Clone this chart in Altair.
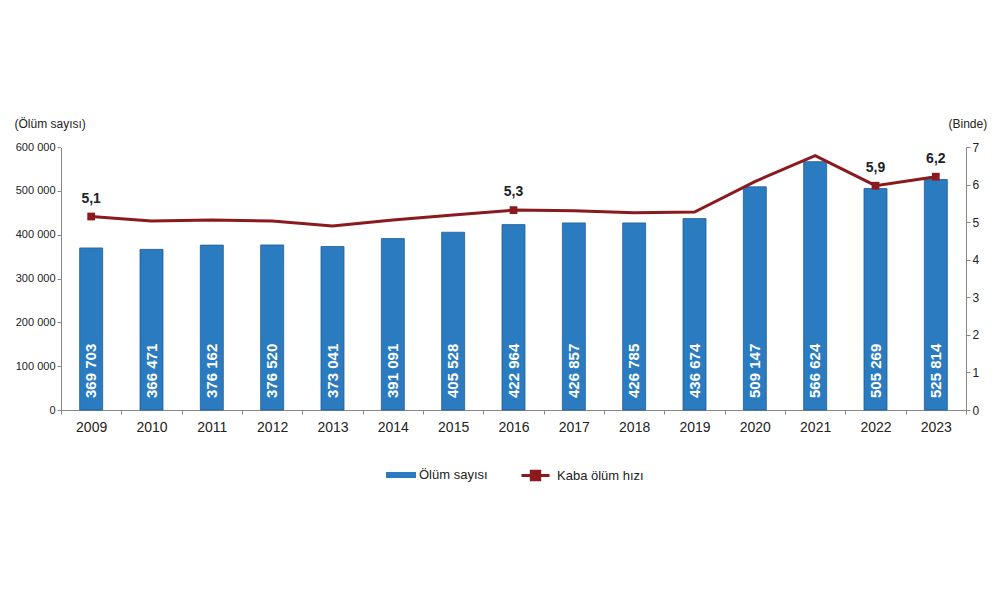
import altair as alt
import pandas as pd

years = ["2009", "2010", "2011", "2012", "2013", "2014", "2015", "2016",
         "2017", "2018", "2019", "2020", "2021", "2022", "2023"]
deaths = [369703, 366471, 376162, 376520, 373041, 391091, 405528, 422964,
          426857, 426785, 436674, 509147, 566624, 505269, 525814]
rate = [5.15, 5.03, 5.06, 5.03, 4.90, 5.06, 5.19, 5.32,
        5.30, 5.25, 5.27, 6.08, 6.77, 5.97, 6.21]
rate_labels = ["5,1", "", "", "", "", "", "", "5,3",
               "", "", "", "", "", "5,9", "6,2"]
left_ticks = [0, 100000, 200000, 300000, 400000, 500000, 600000]
right_ticks = [0, 1, 2, 3, 4, 5, 6, 7]

BLUE = "#2B7BC0"
RED = "#8A1A1D"
FONT = "Liberation Sans"
W, H = 905, 263

df = pd.DataFrame({
    "year": years,
    "deaths": deaths,
    "rate": rate,
    "rlabel": rate_labels,
    "s1": "Ölüm sayısı",
    "s2": "Kaba ölüm hızı",
})

x_axis = alt.Axis(labelAngle=0, labelFontSize=14, labelColor="#222",
                  labelFont=FONT, tickBand="extent", tickSize=4, grid=False,
                  tickColor="#888", domainColor="#888", labelPadding=6)
x_scale = alt.Scale(paddingInner=0, paddingOuter=0)


def xenc():
    return alt.X("year:N", title=None, sort=years, scale=x_scale, axis=x_axis)


LT = "(Ölüm sayısı)"
RT = "(Binde)"
yl_scale = alt.Scale(domain=[0, 600000])
yr_scale = alt.Scale(domain=[0, 7])

left_axis = alt.Axis(titleAngle=0, titleX=-47, titleY=-17,
                     titleAlign="left", titleFontWeight="normal", titleFontSize=12,
                     titleFont=FONT, titleColor="#222",
                     values=left_ticks, labelOverlap=False,
                     labelExpr="replace(format(datum.value, ','), ',', ' ')",
                     labelFontSize=11, labelFont=FONT, labelColor="#222",
                     grid=False, tickSize=4, tickColor="#888",
                     domainColor="#888")
right_axis = alt.Axis(orient="right", titleAngle=0, titleX=-18,
                      titleY=-17, titleAlign="left", titleFontWeight="normal",
                      titleFontSize=12, titleFont=FONT, titleColor="#222",
                      values=right_ticks, labelOverlap=False, labelFontSize=12,
                      labelFont=FONT, labelColor="#222", grid=False, tickSize=4,
                      tickColor="#888", domainColor="#888")

base = alt.Chart(df)

bars = base.mark_bar(size=23, stroke="#1F5E96", strokeWidth=0.8).encode(
    x=xenc(),
    y=alt.Y("deaths:Q", scale=yl_scale, title=LT, axis=left_axis),
    color=alt.Color("s1:N", scale=alt.Scale(domain=["Ölüm sayısı"], range=[BLUE]),
                    legend=alt.Legend(title=None, orient="none", legendX=325, legendY=313,
                                      symbolType="M-1,-0.2H1V0.2H-1Z", symbolSize=900,
                                      symbolStrokeWidth=0, labelFontSize=13,
                                      labelFont=FONT, labelColor="#222", labelOffset=3)),
)

bar_text = base.transform_calculate(
    lab="replace(format(datum.deaths, ','), ',', ' ')",
    zero="0",
).mark_text(angle=270, align="left", baseline="middle", dx=12, color="white",
            fontWeight="bold", fontSize=15, font=FONT).encode(
    x=xenc(),
    y=alt.Y("zero:Q", scale=yl_scale, title=LT, axis=left_axis),
    text="lab:N",
)

left = alt.layer(bars, bar_text)

line = base.mark_line(strokeWidth=3).encode(
    x=xenc(),
    y=alt.Y("rate:Q", scale=yr_scale, title=RT, axis=right_axis),
    stroke=alt.Stroke("s2:N", scale=alt.Scale(domain=["Kaba ölüm hızı"], range=[RED]),
                      legend=alt.Legend(title=None, orient="none", legendX=459, legendY=313,
                                        symbolType="M-1,0H1M-0.3,-0.3H0.3V0.3H-0.3Z",
                                        symbolSize=784, symbolStrokeWidth=3,
                                        symbolFillColor=RED, labelFontSize=13,
                                        labelFont=FONT, labelColor="#222",
                                        labelOffset=6)),
)

pts = base.transform_filter("datum.rlabel != ''").mark_square(
    size=60, color=RED, opacity=1).encode(
    x=xenc(),
    y=alt.Y("rate:Q", scale=yr_scale, title=RT, axis=right_axis),
)

pt_text = base.transform_filter("datum.rlabel != ''").mark_text(
    dy=-18, fontWeight="bold", fontSize=14, font=FONT, color="#222").encode(
    x=xenc(),
    y=alt.Y("rate:Q", scale=yr_scale, title=RT, axis=right_axis),
    text="rlabel:N",
)

right = alt.layer(line, pts, pt_text)

# white mask over the top frame edge of the plot area (no top border in the original)
mask = alt.Chart(pd.DataFrame({"m": [0]})).mark_rule(
    color="white", strokeWidth=2).encode(
    x=alt.value(0), x2=alt.value(W), y=alt.value(0))

chart = alt.layer(left, right, mask).resolve_scale(y="independent").properties(
    width=W, height=H,
    background="white",
    autosize=alt.AutoSizeParams(type="none"),
    padding={"left": 53, "top": 139, "right": 26, "bottom": 150},
).configure(
    view=alt.ViewConfig(stroke=None, strokeWidth=0),
    style={"cell": {"stroke": "transparent", "strokeWidth": 0}},
    axis=alt.AxisConfig(grid=False),
)

chart.save("out.html", embed_options={"renderer": "svg", "actions": False})
